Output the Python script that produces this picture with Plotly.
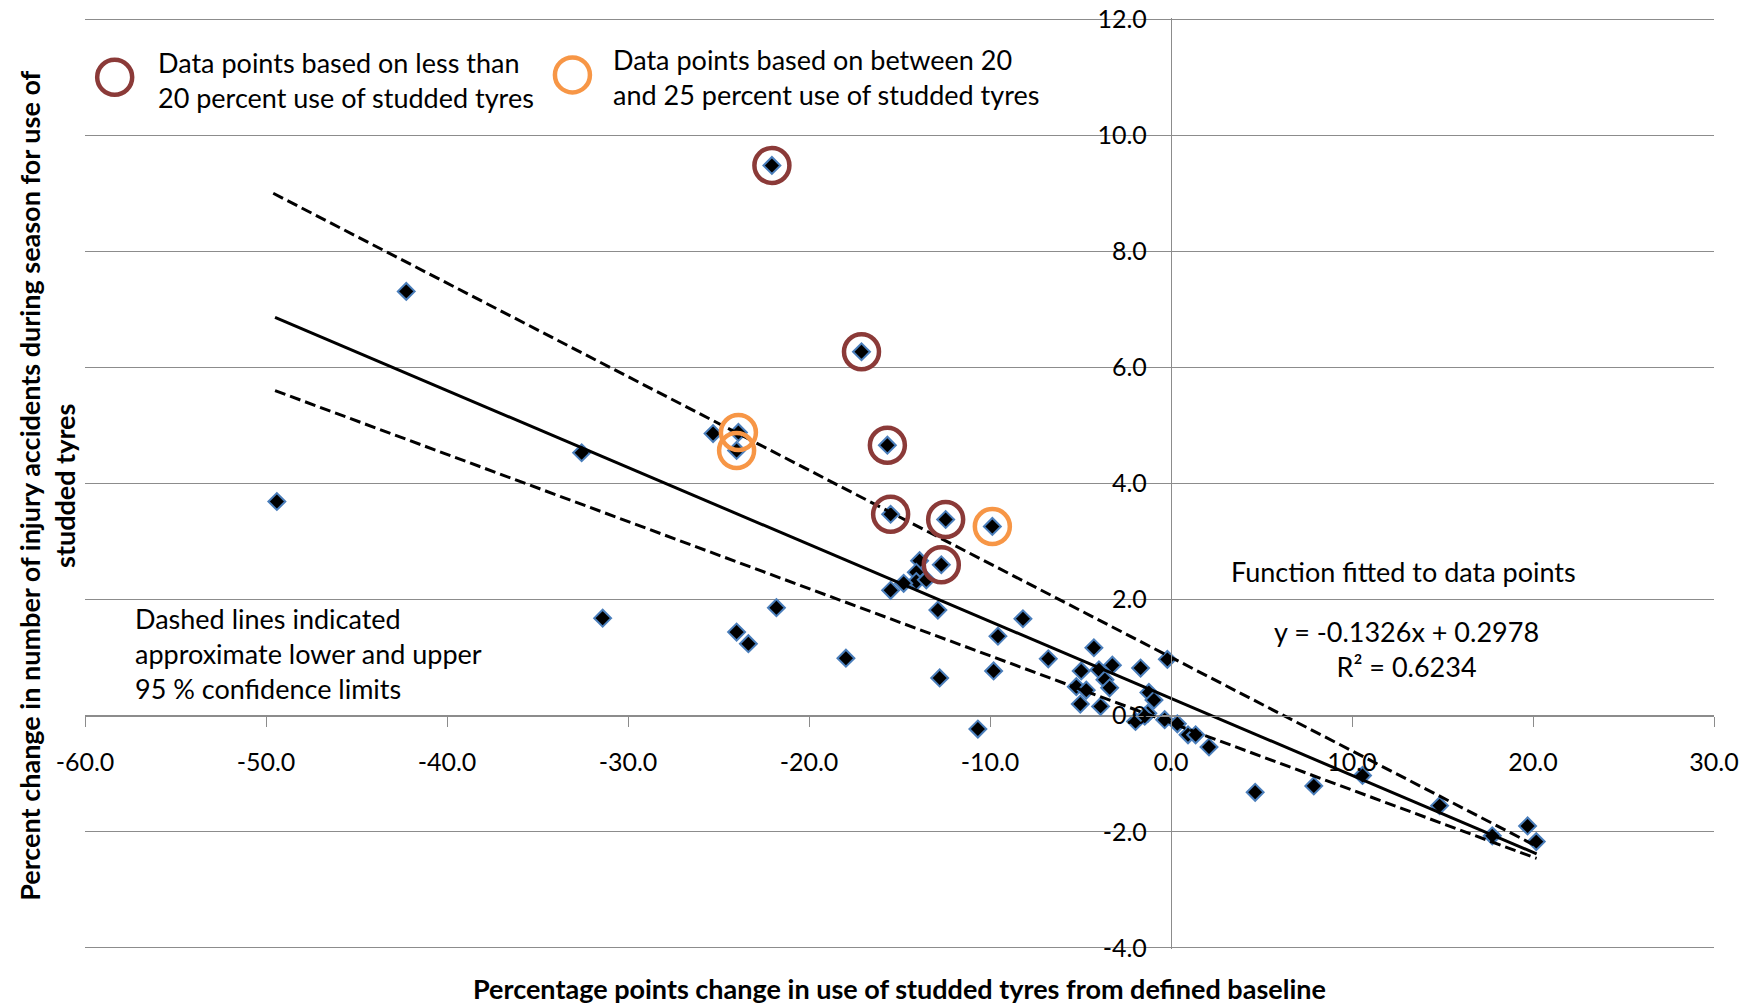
import plotly.graph_objects as go

# ---- data ----
pts_x = [-49.4, -42.25, -32.56, -31.4, -25.3, -23.9, -24.0, -24.0, -23.35, -21.8,
         -22.05, -17.1, -17.96, -15.67, -15.49, -12.45, -12.69, -9.87, -13.89, -14.07,
         -14.07, -13.52, -14.77, -15.49, -12.88, -8.18, -9.56, -6.78, -9.8, -12.78,
         -10.67, -4.26, -4.96, -3.98, -3.24, -3.65, -3.39, -5.23, -4.68, -5.01,
         -3.89, -1.68, -0.2, -1.22, -0.94, -1.28, -1.96, -1.45, -0.35, 0.35,
         0.94, 1.36, 2.1, 4.65, 7.89, 10.58, 14.84, 17.75, 19.7, 20.18]
pts_y = [3.69, 7.31, 4.53, 1.68, 4.86, 4.88, 4.57, 1.44, 1.24, 1.86,
         9.48, 6.27, 0.99, 4.66, 3.47, 3.38, 2.60, 3.26, 2.67, 2.47,
         2.31, 2.34, 2.28, 2.16, 1.82, 1.67, 1.37, 0.98, 0.77, 0.65,
         -0.23, 1.17, 0.77, 0.79, 0.87, 0.62, 0.48, 0.50, 0.44, 0.20,
         0.16, 0.82, 0.97, 0.40, 0.27, 0.04, -0.10, -0.01, -0.07, -0.14,
         -0.33, -0.33, -0.54, -1.32, -1.21, -1.03, -1.55, -2.07, -1.90, -2.17]

# circled points: less than 20 % studded tyres (dark red)
low_x = [-22.05, -17.1, -15.67, -15.49, -12.45, -12.69]
low_y = [9.48, 6.27, 4.66, 3.47, 3.38, 2.60]
# circled points: 20-25 % studded tyres (orange)
mid_x = [-23.9, -24.0, -9.87]
mid_y = [4.88, 4.57, 3.26]

# fitted function y = slope*x + intercept, drawn over the data range
fit_slope = -0.1326
fit_intercept = 0.2978
fit_x = [-49.5, 20.2]
fit_y = [fit_slope * v + fit_intercept for v in fit_x]

# approximate 95 % confidence limits (dashed)
upper_x = [-49.6, 20.2]
upper_y = [9.0, -2.25]
lower_x = [-49.5, 20.2]
lower_y = [5.6, -2.46]

x_ticks = [-60, -50, -40, -30, -20, -10, 0, 10, 20, 30]
y_ticks = [-4, -2, 0, 2, 4, 6, 8, 10, 12]
x_ticktext = ["%.1f" % v for v in x_ticks]
y_ticktext = ["%.1f" % v for v in y_ticks]

FONT = "Lato"
GRID = "#8c8c8c"
RED = "#8B3A38"
ORANGE = "#F79646"

fig = go.Figure()

fig.add_trace(go.Scatter(
    x=pts_x, y=pts_y, mode="markers",
    marker=dict(symbol="diamond", size=13, color="black",
                line=dict(color="#4A7EBB", width=2)),
    cliponaxis=False, showlegend=False))

fig.add_trace(go.Scatter(x=upper_x, y=upper_y, mode="lines",
                         line=dict(color="black", width=3, dash="11px,5px"),
                         showlegend=False))
fig.add_trace(go.Scatter(x=lower_x, y=lower_y, mode="lines",
                         line=dict(color="black", width=3, dash="11px,5px"),
                         showlegend=False))
fig.add_trace(go.Scatter(x=fit_x, y=fit_y, mode="lines",
                         line=dict(color="black", width=3),
                         showlegend=False))

ring = dict(symbol="circle-open", size=35)
fig.add_trace(go.Scatter(
    x=low_x, y=low_y, mode="markers",
    marker=dict(ring, color=RED, line=dict(color=RED, width=4.5)),
    showlegend=False))
fig.add_trace(go.Scatter(
    x=mid_x, y=mid_y, mode="markers",
    marker=dict(ring, color=ORANGE, line=dict(color=ORANGE, width=4.5)),
    showlegend=False))

# legend key rings
fig.add_trace(go.Scatter(
    x=[-58.36], y=[11.0], mode="markers",
    marker=dict(ring, color=RED, line=dict(color=RED, width=4.5)),
    cliponaxis=False, showlegend=False))
fig.add_trace(go.Scatter(
    x=[-33.07], y=[11.04], mode="markers",
    marker=dict(ring, color=ORANGE, line=dict(color=ORANGE, width=4.5)),
    cliponaxis=False, showlegend=False))

txt = dict(family=FONT, size=27, color="black")
tick_font = dict(family=FONT, size=25, color="black")
annos = [
    dict(x=-56.1, y=10.95, xref="x", yref="y", xanchor="left", yanchor="middle", align="left",
         text="Data points based on less than<br>20 percent use of studded tyres"),
    dict(x=-30.96, y=11.0, xref="x", yref="y", xanchor="left", yanchor="middle", align="left",
         text="Data points based on between 20<br>and 25 percent use of studded tyres"),
    dict(x=-57.37, y=1.065, xref="x", yref="y", xanchor="left", yanchor="middle", align="left",
         text="Dashed lines indicated<br>approximate lower and upper<br>95 % confidence limits"),
    dict(x=12.85, y=2.48, xref="x", yref="y", xanchor="center", yanchor="middle",
         text="Function fitted to data points"),
    dict(x=13.0, y=1.15, xref="x", yref="y", xanchor="center", yanchor="middle", align="center",
         text="y = -0.1326x + 0.2978<br>R² = 0.6234"),
    dict(x=0.5003, y=-0.042, xref="paper", yref="paper", xanchor="center", yanchor="middle",
         text="<b>Percentage points change in use of studded tyres from defined baseline</b>"),
    dict(x=-0.023, y=0.497, xref="paper", yref="paper", xanchor="center", yanchor="middle",
         textangle=-90, align="center",
         text="<b>Percent change in number of injury accidents during season for use of<br>studded tyres</b>"),
]
for a in annos:
    a.update(showarrow=False, font=txt)

fig.update_layout(
    template="none",
    width=1751, height=1005,
    margin=dict(l=85, r=37, t=18, b=56, autoexpand=False),
    paper_bgcolor="white", plot_bgcolor="white",
    font=txt,
    annotations=annos,
    xaxis=dict(range=[-60, 30], tickvals=x_ticks, ticktext=x_ticktext,
               anchor="free", position=0.25, automargin=False,
               ticks="outside", ticklen=10, tickcolor=GRID, tickwidth=1.3,
               showline=True, linecolor=GRID, linewidth=1.3,
               showgrid=False, zeroline=False, ticklabelstandoff=14,
               tickfont=tick_font),
    yaxis=dict(range=[-4.02, 12.02], tickvals=y_ticks, ticktext=y_ticktext,
               anchor="free", position=60 / 90, automargin=False,
               ticks="outside", ticklen=9, tickcolor=GRID, tickwidth=1.3,
               showline=True, linecolor=GRID, linewidth=1.3,
               showgrid=True, gridcolor=GRID, gridwidth=1.3, zeroline=False,
               ticklabelstandoff=10, tickfont=tick_font),
)

fig.write_html("out.html")
